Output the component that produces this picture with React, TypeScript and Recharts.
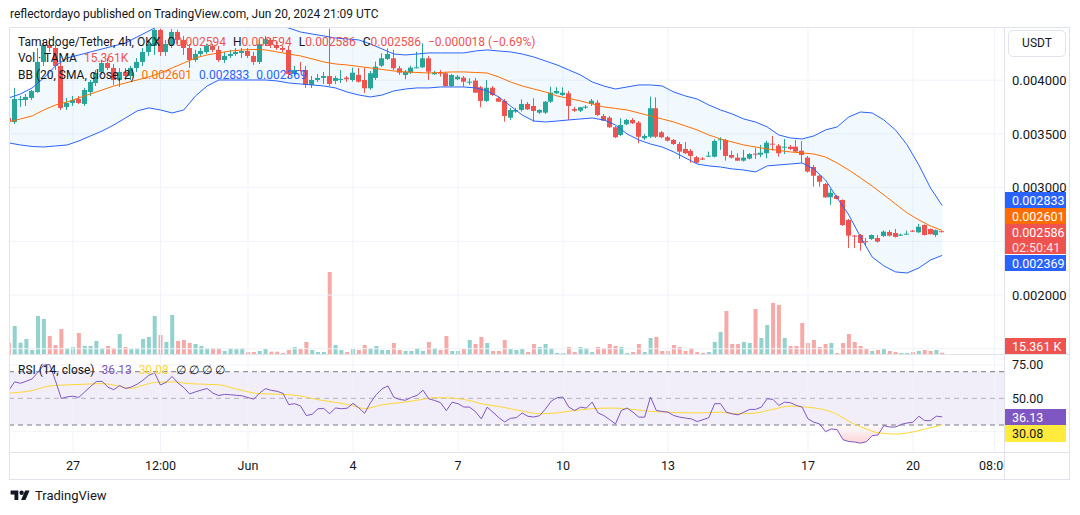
import React from 'react';
import {
  ComposedChart, Bar, Line, Area, XAxis, YAxis, ReferenceLine, ReferenceArea, Cell,
} from 'recharts';

const UP = '#26a69a';
const DOWN = '#ef5350';
const TEXT = '#131722';
const GRID = '#f0f3fa';
const FONT = 'Roboto, "Open Sans", sans-serif';

// 4h candles, index 0 = May 25 04:00 UTC ... index 160 = Jun 20 20:00 UTC
// prices in millionths of USDT (3611 -> 0.003611)
const opens = [
  3648, 3611, 3816, 3816, 3835, 3890, 4170, 4328, 4300, 4133,
  3751, 3788, 3825, 3779, 3890, 3974, 4077, 4160, 4114, 4002,
  4077, 4039, 4114, 4170, 4263, 4319, 4468, 4263, 4328, 4449,
  4375, 4300, 4188, 4244, 4263, 4319, 4282, 4188, 4226, 4244,
  4254, 4272, 4226, 4170, 4337, 4375, 4328, 4300, 4282, 4058,
  4095, 4095, 3956, 4002, 4021, 4039, 3993, 4007, 4024, 4002,
  4049, 4002, 3925, 4021, 4135, 4198, 4204, 4111, 4049, 4070,
  4117, 4120, 4204, 4055, 4070, 4065, 3946, 4009, 4024, 3984,
  3996, 3934, 3807, 3930, 3832, 3807, 3651, 3707, 3723, 3779,
  3760, 3698, 3698, 3800, 3878, 3862, 3878, 3732, 3716, 3744,
  3779, 3791, 3667, 3651, 3562, 3490, 3590, 3630, 3605, 3459,
  3474, 3739, 3515, 3469, 3444, 3406, 3360, 3341, 3283, 3270,
  3292, 3288, 3446, 3444, 3304, 3279, 3251, 3270, 3316, 3307,
  3320, 3409, 3391, 3374, 3381, 3381, 3344, 3279, 3192, 3111,
  3034, 2910, 2922, 2885, 2699, 2553, 2559, 2501, 2522, 2531,
  2550, 2587, 2578, 2556, 2566, 2599, 2584, 2652, 2615, 2559,
  2594,
];
const highs = [
  3704, 3928, 3853, 3872, 3909, 4300, 4375, 4393, 4328, 4170,
  3835, 3853, 3853, 3928, 4002, 4095, 4188, 4207, 4151, 4114,
  4114, 4133, 4207, 4300, 4375, 4480, 4480, 4375, 4475, 4470,
  4412, 4337, 4282, 4300, 4337, 4337, 4319, 4263, 4282, 4300,
  4300, 4300, 4263, 4375, 4412, 4393, 4356, 4319, 4319, 4133,
  4170, 4133, 4039, 4058, 4077, 4480, 4039, 4095, 4039, 4117,
  4114, 4114, 4086, 4173, 4251, 4297, 4282, 4133, 4095, 4133,
  4266, 4344, 4226, 4086, 4095, 4077, 4058, 4049, 4039, 4018,
  4021, 3946, 4002, 3946, 3844, 3825, 3742, 3742, 3822, 3797,
  3832, 3730, 3807, 3940, 3934, 3934, 3900, 3751, 3751, 3769,
  3825, 3816, 3686, 3667, 3574, 3646, 3639, 3648, 3620, 3499,
  3847, 3841, 3527, 3481, 3453, 3425, 3425, 3360, 3295, 3285,
  3335, 3450, 3469, 3453, 3344, 3320, 3351, 3320, 3369, 3397,
  3437, 3481, 3406, 3453, 3397, 3444, 3434, 3295, 3211, 3118,
  3043, 2987, 2932, 2890, 2708, 2559, 2568, 2531, 2564, 2559,
  2601, 2606, 2615, 2573, 2599, 2606, 2662, 2657, 2620, 2610,
  2594,
];
const lows = [
  3583, 3593, 3751, 3760, 3816, 3881, 4133, 4263, 4095, 3723,
  3723, 3760, 3779, 3760, 3853, 3946, 4049, 4095, 3956, 3937,
  4002, 4002, 4077, 4133, 4226, 4235, 4226, 4226, 4300, 4337,
  4235, 4114, 4170, 4226, 4244, 4263, 4170, 4160, 4207, 4226,
  4207, 4207, 4142, 4151, 4319, 4300, 4282, 4263, 4021, 4039,
  4077, 3928, 3928, 3984, 3965, 3946, 3965, 3974, 3984, 3986,
  3977, 3881, 3909, 4002, 4123, 4188, 4095, 4049, 4009, 4058,
  4111, 4114, 4002, 4049, 4033, 3940, 3937, 4002, 3940, 3956,
  3881, 3748, 3797, 3853, 3797, 3614, 3630, 3695, 3707, 3723,
  3614, 3686, 3686, 3788, 3872, 3853, 3630, 3704, 3704, 3732,
  3760, 3667, 3620, 3555, 3462, 3481, 3583, 3593, 3413, 3444,
  3462, 3462, 3462, 3430, 3397, 3267, 3313, 3232, 3225, 3257,
  3285, 3281, 3351, 3251, 3271, 3248, 3243, 3262, 3267, 3283,
  3273, 3344, 3288, 3313, 3351, 3327, 3232, 3141, 3009, 3009,
  2904, 2839, 2890, 2643, 2438, 2438, 2413, 2466, 2513, 2489,
  2541, 2545, 2536, 2550, 2559, 2587, 2578, 2554, 2564, 2541,
  2586,
];
const closes = [
  3611, 3825, 3825, 3844, 3900, 4170, 4328, 4300, 4133, 3742,
  3788, 3816, 3788, 3909, 3984, 4067, 4160, 4114, 4002, 4077,
  4039, 4114, 4170, 4263, 4337, 4468, 4263, 4337, 4449, 4375,
  4300, 4188, 4244, 4272, 4319, 4282, 4188, 4226, 4244, 4263,
  4272, 4226, 4170, 4337, 4384, 4328, 4300, 4282, 4058, 4095,
  4086, 3956, 4002, 4021, 4039, 3965, 4021, 4012, 4009, 4070,
  3986, 3925, 4065, 4126, 4204, 4244, 4111, 4070, 4079, 4117,
  4120, 4204, 4079, 4070, 4065, 3946, 4049, 4033, 3986, 3986,
  3884, 3807, 3930, 3862, 3800, 3667, 3723, 3723, 3779, 3729,
  3714, 3723, 3800, 3884, 3900, 3884, 3760, 3716, 3748, 3754,
  3809, 3676, 3623, 3562, 3469, 3583, 3630, 3599, 3474, 3481,
  3739, 3474, 3469, 3437, 3406, 3335, 3320, 3295, 3232, 3264,
  3297, 3434, 3450, 3295, 3279, 3251, 3279, 3313, 3310, 3325,
  3418, 3404, 3320, 3381, 3360, 3335, 3304, 3149, 3111, 3055,
  2910, 2953, 2894, 2652, 2553, 2547, 2485, 2494, 2559, 2497,
  2590, 2553, 2541, 2562, 2571, 2594, 2636, 2559, 2566, 2604,
  2586,
];
// volume, thousands of TAMA
const volumes = [
  138, 342, 138, 183, 49, 464, 427, 220, 110, 305,
  73, 85, 256, 98, 98, 159, 73, 98, 73, 244,
  85, 61, 73, 183, 208, 464, 232, 147, 476, 159,
  171, 134, 122, 98, 73, 73, 73, 37, 73, 61,
  73, 24, 24, 37, 61, 28, 28, 12, 49, 85,
  61, 147, 49, 24, 24, 1000, 110, 49, 24, 61,
  49, 110, 73, 98, 49, 49, 134, 49, 37, 37,
  73, 37, 147, 73, 49, 220, 37, 37, 61, 171,
  122, 208, 134, 37, 37, 171, 61, 49, 61, 24,
  122, 85, 122, 73, 12, 12, 85, 24, 85, 73,
  24, 85, 73, 122, 98, 85, 12, 24, 122, 24,
  195, 208, 37, 37, 110, 85, 37, 73, 24, 12,
  24, 147, 269, 525, 122, 122, 147, 134, 549, 195,
  354, 623, 598, 195, 98, 98, 378, 134, 171, 85,
  122, 134, 12, 134, 244, 147, 98, 61, 37, 49,
  61, 37, 24, 12, 12, 24, 37, 49, 37, 49,
  15.361,
];

// Bollinger bands (20, SMA, close, 2), read at every second candle
const bbUpper = [
  3835, 3872, 3928, 4021, 4133, 4207, 4235, 4263, 4291, 4319,
  4347, 4403, 4458, 4514, 4561, 4598, 4598, 4579, 4561, 4561,
  4561, 4561, 4551, 4514, 4486, 4449, 4430, 4412, 4393, 4384,
  4375, 4337, 4291, 4244, 4235, 4244, 4254, 4254, 4254, 4254,
  4272, 4282, 4272, 4263, 4244, 4216, 4179, 4142, 4095, 4049,
  3984, 3946, 3918, 3937, 3956, 3956, 3946, 3890, 3853, 3825,
  3769, 3723, 3686, 3639, 3611, 3565, 3490, 3462, 3453, 3481,
  3537, 3565, 3658, 3704, 3695, 3630, 3537, 3397, 3211, 2997,
  2833,
];
const bbMid = [
  3611, 3639, 3667, 3723, 3769, 3797, 3835, 3872, 3909, 3946,
  3974, 4002, 4030, 4067, 4114, 4160, 4207, 4235, 4254, 4272,
  4282, 4286, 4282, 4263, 4244, 4226, 4198, 4170, 4151, 4142,
  4128, 4114, 4100, 4086, 4077, 4072, 4067, 4072, 4077, 4077,
  4072, 4067, 4030, 3984, 3946, 3918, 3890, 3853, 3830, 3807,
  3779, 3751, 3737, 3723, 3695, 3667, 3639, 3611, 3574, 3537,
  3490, 3453, 3425, 3397, 3378, 3360, 3346, 3332, 3323, 3313,
  3285, 3229, 3164, 3090, 3015, 2932, 2848, 2764, 2699, 2643,
  2601,
];
const bbLower = [
  3416, 3397, 3383, 3378, 3388, 3397, 3434, 3481, 3527, 3583,
  3648, 3714, 3742, 3723, 3695, 3723, 3853, 3946, 4002, 4002,
  4002, 4002, 4002, 3993, 3974, 3965, 3956, 3946, 3928, 3890,
  3862, 3844, 3862, 3900, 3918, 3928, 3928, 3937, 3937, 3937,
  3928, 3900, 3844, 3760, 3676, 3620, 3611, 3620, 3630, 3639,
  3648, 3630, 3583, 3499, 3444, 3406, 3378, 3332, 3276, 3220,
  3202, 3192, 3174, 3164, 3146, 3202, 3211, 3220, 3229, 3174,
  3071, 2904, 2745, 2541, 2354, 2271, 2215, 2205, 2252, 2326,
  2369,
];

// RSI (14, close), one value per candle
const rsi = [
  56, 62.4, 61.3, 62.9, 64.6, 69.7, 75, 75.4, 63.2, 49.9,
  51.1, 51.6, 50.7, 54.8, 58.8, 62.6, 62.8, 58.4, 56.5, 59.6,
  57.4, 58.5, 60.6, 63.6, 67.3, 69, 60, 62.2, 66.4, 61.5,
  58.1, 53.3, 54.9, 56.2, 57.4, 53.9, 52.1, 53, 52.7, 52.3,
  51.9, 50.6, 49.4, 54, 57.3, 56, 55.3, 53.8, 45.3, 46,
  44.3, 37.1, 38, 42.2, 42.4, 38.4, 42.8, 42.2, 42.6, 46.2,
  42.9, 38.8, 46.7, 52.8, 57.2, 59.3, 50.8, 49.1, 48.6, 50.7,
  52.3, 56.1, 49.6, 48.4, 46.8, 40.8, 47.1, 46, 43.5, 43.4,
  40, 34.6, 43.4, 39.6, 35.5, 32.3, 35, 35.5, 39, 36.5,
  36, 37, 42, 48, 50.5, 51, 43.4, 40.9, 43.4, 42.7,
  47.2, 39.1, 37.1, 34, 30.8, 40.9, 42.7, 39.6, 35.9, 35.9,
  51, 40.9, 40.2, 39.6, 37.1, 35.9, 35.2, 34.6, 32.6, 34,
  35.5, 46, 46, 39.6, 38.4, 37.6, 39.6, 41.7, 41.7, 43.4,
  49.7, 49.2, 44.7, 47.2, 46.7, 44.7, 43.4, 34.6, 32.1, 30.8,
  25, 27, 26.5, 19, 17.6, 17.2, 16.4, 17.4, 22, 22.5,
  29.5, 28.5, 28.5, 30.5, 31.5, 32.1, 36.6, 33.3, 33.3, 36.6,
  36.13,
];
// RSI moving average, read at these candles
const rsiMaIdx = [
  0, 4, 7, 13, 16, 19, 21, 23, 25, 28, 31, 36, 39, 43, 47, 50, 53, 56, 59, 61,
  64, 67, 71, 73, 76, 79, 81, 84, 88, 91, 94, 97, 100, 103, 106, 110, 113, 116, 119, 122,
  125, 128, 131, 134, 137, 139, 142, 144, 147, 149, 152, 154, 157, 160,
];
const rsiMaVal = [
  54, 55.8, 59.3, 60.6, 61.1, 59, 57.5, 59.8, 61.9, 62.4, 61, 60.2, 57, 53.5, 53, 51.8, 49, 47, 44.5, 42.3,
  45.2, 46.7, 49.3, 50.5, 50.2, 48.3, 46, 43.9, 40.5, 38.4, 39.1, 40.9, 42.2, 42.7, 42.2, 40.2, 39.6, 39.1, 39.1, 39.6,
  38.4, 39, 41.8, 44.2, 43.3, 42.2, 38, 32.8, 27, 24.2, 23.2, 24, 26.8, 30.08,
];

const timeTicks = [11, 26, 41, 59, 77, 95, 113, 137, 155, 169];
const timeLabels = ['27', '12:00', 'Jun', '4', '7', '10', '13', '17', '20', '08:00'];
const priceGrid = [1500, 2000, 2500, 3000, 3500, 4000];
const priceTicks = [2000, 3000, 3500, 4000];
const rsiGrid = [25, 75];
const rsiTicks = [50, 75];

const X_DOMAIN: [number, number] = [0.206, 170.6];
const P_DOMAIN: [number, number] = [1451, 4486];
const V_DOMAIN: [number, number] = [0, 3976];
const R_DOMAIN: [number, number] = [9.74, 82.53];

const maMap = new Map(rsiMaIdx.map((k, j) => [k, rsiMaVal[j]]));

const rows = opens.map((o, i) => {
  const even = i % 2 === 0;
  return {
    i,
    open: o,
    high: highs[i],
    low: lows[i],
    close: closes[i],
    volume: volumes[i],
    bbU: even ? bbUpper[i / 2] : null,
    bbM: even ? bbMid[i / 2] : null,
    bbL: even ? bbLower[i / 2] : null,
    band: even ? [bbLower[i / 2], bbUpper[i / 2]] : null,
    rsi: rsi[i],
    rsiMa: maMap.has(i) ? maMap.get(i) : null,
  };
});

const fmtPrice = (v: number) => (v / 1e6).toFixed(6);
const fmtTime = (v: number) => timeLabels[timeTicks.indexOf(v)] ?? '';

const Candle = (props: any) => {
  const { x, y, width, height, payload } = props;
  if (!payload || x == null) return null;
  const { open, close, high, low } = payload;
  const color = close >= open ? UP : DOWN;
  const top = Math.min(y, y + height);
  const h = Math.abs(height);
  const k = high > low ? h / (high - low) : 0;
  const yO = top + (high - open) * k;
  const yC = top + (high - close) * k;
  const bx = Math.round(x);
  const bw = Math.round(width);
  const cx = bx + bw / 2;
  const bTop = Math.min(yO, yC);
  const bH = Math.max(1, Math.abs(yO - yC));
  return (
    <g>
      <line x1={cx} x2={cx} y1={top} y2={top + Math.max(h, 1)} stroke={color} strokeWidth={1} />
      <rect x={bx} y={bTop} width={bw} height={bH} fill={color} />
    </g>
  );
};

const abs = (left: number, top: number): React.CSSProperties => ({ position: 'absolute', left, top });

const Tag = ({ top, bg, color = '#fff', h = 16, children }: any) => (
  <div
    style={{
      ...abs(1005, top), width: 61, height: h, background: bg, color, fontSize: 12.5,
      lineHeight: '15px', paddingLeft: 7, paddingTop: 1, boxSizing: 'border-box', whiteSpace: 'nowrap',
    }}
  >
    {children}
  </div>
);

const priceTick = { fill: TEXT, fontSize: 13, fontFamily: FONT };
const smallTick = { fill: TEXT, fontSize: 12.5, fontFamily: FONT };
const legendRow: React.CSSProperties = {
  fontSize: 12, lineHeight: '16px', whiteSpace: 'nowrap', display: 'flex', gap: 7,
};

export default function App() {
  return (
    <div style={{ ...abs(0, 0), width: 1080, height: 515, background: '#fff', fontFamily: FONT, color: TEXT, overflow: 'hidden' }}>
      <svg width="0" height="0" style={{ position: 'absolute' }}>
        <defs>
          <linearGradient id="osFill" x1="0" y1="0" x2="0" y2="1">
            <stop offset="0%" stopColor="#f23645" stopOpacity={0.04} />
            <stop offset="100%" stopColor="#f23645" stopOpacity={0.35} />
          </linearGradient>
          <linearGradient id="obFill" x1="0" y1="1" x2="0" y2="0">
            <stop offset="0%" stopColor="#089981" stopOpacity={0.04} />
            <stop offset="100%" stopColor="#089981" stopOpacity={0.35} />
          </linearGradient>
        </defs>
      </svg>

      <div style={{ ...abs(10, 7), fontSize: 12, whiteSpace: 'nowrap' }}>
        reflectordayo published on TradingView.com, Jun 20, 2024 21:09 UTC
      </div>

      {/* frame */}
      <div style={{ ...abs(9, 27), width: 1061, height: 453, border: '1px solid #e0e3eb', boxSizing: 'border-box' }} />

      {/* grid + volume layer */}
      <div style={abs(10, 28)}>
        <ComposedChart width={994} height={326} data={rows} margin={{ top: 0, right: 0, bottom: 0, left: 0 }}>
          <XAxis dataKey="i" type="number" domain={X_DOMAIN} allowDataOverflow hide />
          <YAxis yAxisId="v" domain={V_DOMAIN} allowDataOverflow hide />
          <YAxis yAxisId="p" domain={P_DOMAIN} allowDataOverflow hide />
          {priceGrid.map((t) => (
            <ReferenceLine key={'py' + t} yAxisId="p" y={t} stroke={GRID} strokeWidth={1} />
          ))}
          {timeTicks.map((t) => (
            <ReferenceLine key={'px' + t} yAxisId="p" x={t} stroke={GRID} strokeWidth={1} />
          ))}
          <Bar yAxisId="v" dataKey="volume" barSize={4} isAnimationActive={false}>
            {rows.map((r) => (
              <Cell key={r.i} fill={r.close >= r.open ? 'rgba(38,166,154,0.5)' : 'rgba(239,83,80,0.5)'} />
            ))}
          </Bar>
        </ComposedChart>
      </div>

      {/* price layer */}
      <div style={abs(10, 28)}>
        <ComposedChart width={1060} height={326} data={rows} margin={{ top: 0, right: 0, bottom: 0, left: 0 }}>
          <XAxis dataKey="i" type="number" domain={X_DOMAIN} allowDataOverflow hide />
          <YAxis
            orientation="right" width={66} domain={P_DOMAIN} allowDataOverflow ticks={priceTicks} interval={0}
            tickFormatter={fmtPrice} axisLine={false} tickLine={false} tickSize={0} tickMargin={8} tick={priceTick}
          />
          <Area dataKey="band" connectNulls fill="#2196f3" fillOpacity={0.06} stroke="none" isAnimationActive={false} />
          <Line dataKey="bbU" connectNulls stroke="#2962ff" strokeWidth={1} dot={false} isAnimationActive={false} />
          <Line dataKey="bbL" connectNulls stroke="#2962ff" strokeWidth={1} dot={false} isAnimationActive={false} />
          <Line dataKey="bbM" connectNulls stroke="#ff6d00" strokeWidth={1} dot={false} isAnimationActive={false} />
          <Bar dataKey={(d: any) => [d.low, d.high]} barSize={5} shape={<Candle />} isAnimationActive={false} />
        </ComposedChart>
      </div>

      {/* RSI + time axis */}
      <div style={abs(10, 355)}>
        <ComposedChart width={1060} height={124} data={rows} margin={{ top: 0, right: 0, bottom: 0, left: 0 }}>
          <XAxis
            dataKey="i" type="number" domain={X_DOMAIN} allowDataOverflow ticks={timeTicks} interval={0}
            tickFormatter={fmtTime} height={27} axisLine={false} tickLine={false} tickSize={0} tickMargin={9} tick={smallTick}
          />
          <YAxis
            orientation="right" width={66} domain={R_DOMAIN} allowDataOverflow ticks={rsiTicks} interval={0}
            tickFormatter={(v: number) => v.toFixed(2)} axisLine={false} tickLine={false} tickSize={0} tickMargin={8} tick={smallTick}
          />
          {rsiGrid.map((t) => (
            <ReferenceLine key={'ry' + t} y={t} stroke={GRID} />
          ))}
          {timeTicks.map((t) => (
            <ReferenceLine key={'rx' + t} x={t} stroke={GRID} />
          ))}
          <ReferenceArea y1={30} y2={70} fill="#7e57c2" fillOpacity={0.1} stroke="none" />
          <ReferenceLine y={70} stroke="#787b86" strokeDasharray="5 4" />
          <ReferenceLine y={50} stroke="#787b86" strokeOpacity={0.5} strokeDasharray="5 4" />
          <ReferenceLine y={30} stroke="#787b86" strokeDasharray="5 4" />
          <Area dataKey={(d: any) => Math.min(d.rsi, 30)} baseValue={30} fill="url(#osFill)" stroke="none" isAnimationActive={false} />
          <Area dataKey={(d: any) => Math.max(d.rsi, 70)} baseValue={70} fill="url(#obFill)" stroke="none" isAnimationActive={false} />
          <Line dataKey="rsiMa" connectNulls type="monotone" stroke="#fdd835" strokeWidth={1} dot={false} isAnimationActive={false} />
          <Line dataKey="rsi" stroke="#7e57c2" strokeWidth={1} dot={false} isAnimationActive={false} />
        </ComposedChart>
      </div>

      {/* separators */}
      <div style={{ ...abs(1004, 27), width: 1, height: 453, background: '#e0e3eb' }} />
      <div style={{ ...abs(9, 354), width: 1061, height: 1, background: '#e0e3eb' }} />
      <div style={{ ...abs(9, 452), width: 1061, height: 1, background: '#e0e3eb' }} />
      <div style={{ ...abs(1005, 453), width: 64, height: 26, background: '#fff' }} />

      {/* legends */}
      <div style={{ ...abs(18, 34), ...legendRow }}>
        <span>Tamadoge/Tether, 4h, OKX</span>
        <span>O<span style={{ color: DOWN }}>0.002594</span></span>
        <span>H<span style={{ color: DOWN }}>0.002594</span></span>
        <span>L<span style={{ color: DOWN }}>0.002586</span></span>
        <span>C<span style={{ color: DOWN }}>0.002586</span></span>
        <span style={{ color: DOWN }}>−0.000018 (−0.69%)</span>
      </div>
      <div style={{ ...abs(18, 50), ...legendRow }}>
        <span>Vol · TAMA</span>
        <span style={{ color: DOWN }}>15.361K</span>
      </div>
      <div style={{ ...abs(18, 67), ...legendRow }}>
        <span>BB (20, SMA, close, 2)</span>
        <span style={{ color: '#ff6d00' }}>0.002601</span>
        <span style={{ color: '#2962ff' }}>0.002833</span>
        <span style={{ color: '#2962ff' }}>0.002369</span>
      </div>
      <div style={{ ...abs(18, 362), ...legendRow }}>
        <span>RSI (14, close)</span>
        <span style={{ color: '#7e57c2' }}>36.13</span>
        <span style={{ color: '#fdd835' }}>30.08</span>
        <span>∅ ∅ ∅ ∅</span>
      </div>

      {/* price scale */}
      <div
        style={{
          ...abs(1008, 30), width: 58, height: 27, border: '1px solid #e0e3eb', borderRadius: 5,
          boxSizing: 'border-box', fontSize: 12, lineHeight: '25px', textAlign: 'center',
        }}
      >
        USDT
      </div>
      <Tag top={192} bg="#2962ff">0.002833</Tag>
      <Tag top={208} bg="#ff6d00">0.002601</Tag>
      <Tag top={224} bg={DOWN} h={30}>
        <div>0.002586</div>
        <div style={{ color: 'rgba(255,255,255,0.85)' }}>02:50:41</div>
      </Tag>
      <Tag top={255} bg="#2962ff">0.002369</Tag>
      <Tag top={338} bg={DOWN}>15.361 K</Tag>
      <Tag top={409} bg="#7e57c2">36.13</Tag>
      <Tag top={425} bg="#ffeb3b" color={TEXT} h={17}>30.08</Tag>

      {/* footer */}
      <div style={{ ...abs(10, 488), display: 'flex', alignItems: 'center', gap: 4 }}>
        <svg width="21" height="11" viewBox="0 0 36 20">
          <path d="M14 18H7V8H0V1h14v17z" fill={TEXT} />
          <circle cx="20" cy="5" r="4" fill={TEXT} />
          <path d="M27 18h-8L26.5 1h8z" fill={TEXT} />
        </svg>
        <span style={{ fontSize: 13 }}>TradingView</span>
      </div>
    </div>
  );
}
